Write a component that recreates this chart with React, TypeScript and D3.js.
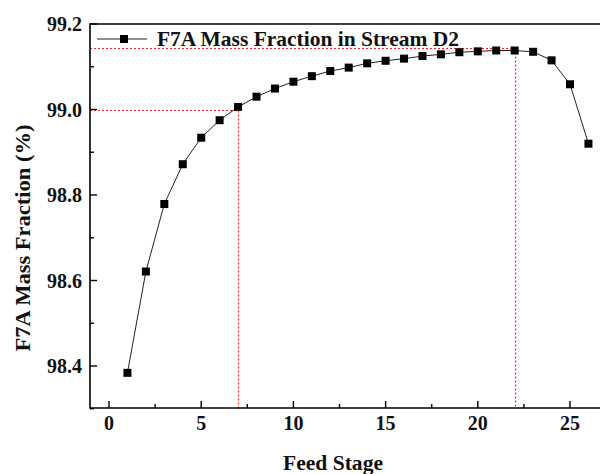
import React from "react";
import * as d3 from "d3";

const stages = [1,2,3,4,5,6,7,8,9,10,11,12,13,14,15,16,17,18,19,20,21,22,23,24,25,26];
const massFraction = [98.384,98.621,98.779,98.872,98.934,98.975,99.006,99.030,99.049,99.065,99.078,99.090,99.098,99.108,99.114,99.119,99.125,99.129,99.134,99.136,99.138,99.138,99.135,99.115,99.059,98.920];
const xTicks = [0,5,10,15,20,25];
const xMinor = [2.5,7.5,12.5,17.5,22.5];
const yTicks = [98.4,98.6,98.8,99.0,99.2];
const yMinor = [98.3,98.5,98.7,98.9,99.1];
const refA = { x: 7, y: 99.0 };
const refB = { x: 22, y: 99.143 };
const seriesName = "F7A Mass Fraction in Stream D2";

export default function App() {
  const W = 600, H = 474;
  const L = 90, T = 24, B = 408, R = 612;
  const x = d3.scaleLinear().domain([0, 25]).range([109, 570]);
  const y = d3.scaleLinear().domain([98.4, 99.2]).range([366, 24]);
  const line = d3.line<number>().x((_, i) => x(stages[i])).y((d) => y(d));
  const font = "'Liberation Serif', 'Times New Roman', serif";
  const ms = 8;
  const snap = (v: number) => Math.round(v) + 0.5;
  return (
    <svg width={W} height={H} style={{ position: "absolute", left: 0, top: 0, background: "#fff" }} fontFamily={font}>
      {/* red reference lines */}
      <g stroke="#ff2020" strokeWidth={1.2} strokeDasharray="2,2" fill="none">
        <line x1={L} x2={snap(x(refA.x))} y1={snap(y(refA.y))} y2={snap(y(refA.y))} />
        <line x1={snap(x(refA.x))} x2={snap(x(refA.x))} y1={snap(y(refA.y))} y2={B} />
        <line x1={L} x2={snap(x(refB.x))} y1={snap(y(refB.y))} y2={snap(y(refB.y))} />
        <line x1={snap(x(refB.x))} x2={snap(x(refB.x))} y1={snap(y(refB.y))} y2={B} />
      </g>
      {/* data line */}
      <path d={line(massFraction) || ""} fill="none" stroke="#222" strokeWidth={1} />
      {massFraction.map((v, i) => (
        <rect key={i} x={x(stages[i]) - ms / 2} y={y(v) - ms / 2} width={ms} height={ms} fill="#000" />
      ))}
      {/* frame */}
      <g stroke="#000" strokeWidth={1.6} fill="none">
        <line x1={L} x2={R} y1={T} y2={T} />
        <line x1={L} x2={L} y1={T - 0.8} y2={B + 0.8} />
        <line x1={L} x2={R} y1={B} y2={B} />
      </g>
      {/* ticks */}
      <g stroke="#000" strokeWidth={1.4}>
        {xTicks.map((t) => <line key={t} x1={x(t)} x2={x(t)} y1={B} y2={B - 7} />)}
        {xMinor.map((t) => <line key={t} x1={x(t)} x2={x(t)} y1={B} y2={B - 4} />)}
        {yTicks.map((t) => <line key={t} x1={L} x2={L + 7} y1={y(t)} y2={y(t)} />)}
        {yMinor.map((t) => <line key={t} x1={L} x2={L + 4} y1={y(t)} y2={y(t)} />)}
      </g>
      <g fontSize={20} fontWeight="bold" fill="#111">
        {xTicks.map((t) => (
          <text key={t} x={x(t)} y={430} textAnchor="middle">{t}</text>
        ))}
        {yTicks.map((t) => (
          <text key={t} x={L - 8} y={y(t) + 7} textAnchor="end">{t.toFixed(1)}</text>
        ))}
      </g>
      {/* axis titles */}
      <text x={333} y={470} textAnchor="middle" fontSize={21} fontWeight="bold" fill="#111" textLength={100} lengthAdjust="spacingAndGlyphs">Feed Stage</text>
      <text transform={`translate(30,238) rotate(-90)`} textAnchor="middle" fontSize={21} fontWeight="bold" fill="#111" textLength={227} lengthAdjust="spacingAndGlyphs">F7A Mass Fraction (%)</text>
      {/* legend */}
      <line x1={97} x2={147} y1={39} y2={39} stroke="#222" strokeWidth={1} />
      <rect x={124 - ms / 2} y={39 - ms / 2} width={ms} height={ms} fill="#000" />
      <text x={157} y={46} fontSize={21} fontWeight="bold" fill="#111" textLength={302} lengthAdjust="spacingAndGlyphs">{seriesName}</text>
    </svg>
  );
}
